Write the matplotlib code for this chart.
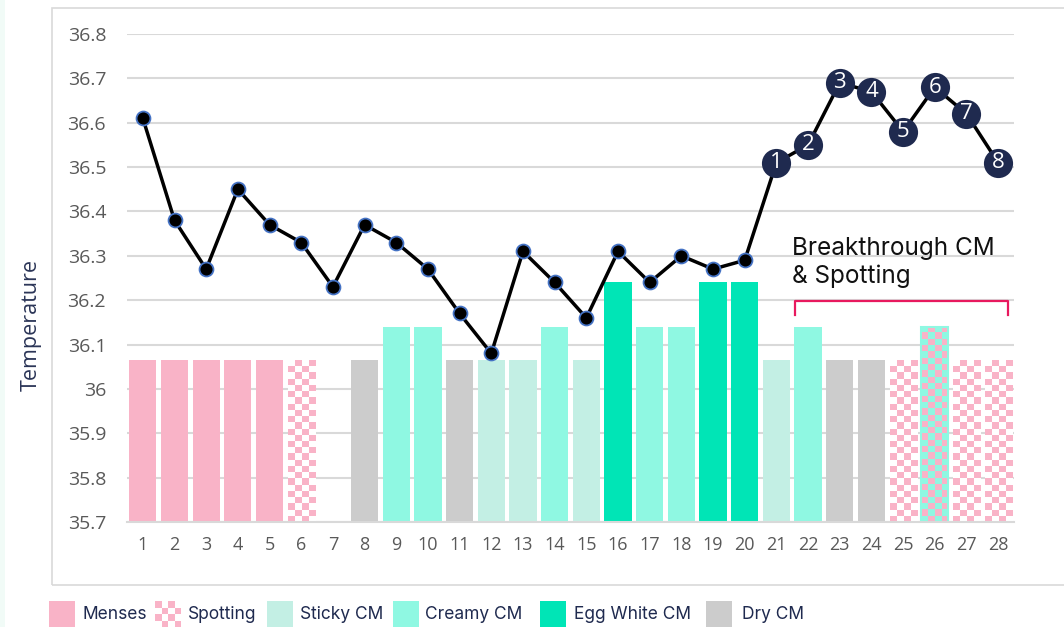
import numpy as np
import matplotlib.pyplot as plt
from matplotlib.patches import Rectangle

days = list(range(1, 29))
temps = [36.61, 36.38, 36.27, 36.45, 36.37, 36.33, 36.23, 36.37, 36.33, 36.27,
         36.17, 36.08, 36.31, 36.24, 36.16, 36.31, 36.24, 36.30, 36.27, 36.29,
         36.51, 36.55, 36.69, 36.67, 36.58, 36.68, 36.62, 36.51]
# cervical mucus / bleeding per day ('' = nothing recorded)
obs = ['menses'] * 5 + ['spotting', '', 'dry', 'creamy', 'creamy', 'dry', 'sticky',
       'sticky', 'creamy', 'sticky', 'egg', 'creamy', 'creamy', 'egg', 'egg',
       'sticky', 'creamy', 'dry', 'dry', 'spotting', 'creamy+spotting',
       'spotting', 'spotting']
bar_level = {'menses': 36.065, 'spotting': 36.065, 'dry': 36.065, 'sticky': 36.065,
             'creamy': 36.14, 'creamy+spotting': 36.14, 'egg': 36.24}
post_ovulation_start = 21

colors = {'menses': '#F9B3C7', 'sticky': '#C3EFE4', 'creamy': '#8FF8E2',
          'egg': '#00E5B6', 'dry': '#CCCCCC'}
legend_items = [('Menses', 'menses'), ('Spotting', 'spotting'), ('Sticky CM', 'sticky'),
                ('Creamy CM', 'creamy'), ('Egg White CM', 'egg'), ('Dry CM', 'dry')]

NAVY = '#1F2A4F'
PINK = colors['menses']

fig = plt.figure(figsize=(10.64, 6.27), dpi=100)
fig.patches.append(Rectangle((0, 0), 5 / 1064, 1, transform=fig.transFigure,
                             facecolor='#F1FBF7', edgecolor='none'))
fig.patches.append(Rectangle((52 / 1064, 1 - 585 / 627), 1.1, (585 - 8) / 627,
                             transform=fig.transFigure, facecolor='none',
                             edgecolor='#D9D9D9', lw=1.2))

ax = fig.add_axes([127 / 1064, 1 - 522 / 627, (1014 - 127) / 1064, (522 - 34) / 627])
ymin, ymax = 35.7, 36.8
ax.set_xlim(0.5, 28.5)
ax.set_ylim(ymin, ymax)


def checker(ax, x0, x1, y0, y1, c1, c2, cell_px=6.2):
    # checkerboard fill for a bar
    p0 = ax.transData.transform((x0, y0))
    p1 = ax.transData.transform((x1, y1))
    nx = max(1, int(round(abs(p1[0] - p0[0]) / cell_px)))
    ny = max(1, int(round(abs(p1[1] - p0[1]) / cell_px)))
    grid = (np.indices((ny, nx)).sum(axis=0) % 2)
    img = np.zeros((ny, nx, 3))
    img[grid == 0] = plt.matplotlib.colors.to_rgb(c1)
    img[grid == 1] = plt.matplotlib.colors.to_rgb(c2)
    ax.imshow(img, extent=(x0, x1, y0, y1), origin='lower', interpolation='nearest',
              aspect='auto', zorder=2)


w = 0.86
for d, o in zip(days, obs):
    if not o:
        continue
    top = bar_level[o]
    if o == 'spotting':
        checker(ax, d - w / 2, d + w / 2, ymin, top, PINK, 'white')
    elif o == 'creamy+spotting':
        checker(ax, d - w / 2, d + w / 2, ymin, top, colors['creamy'], PINK)
        ax.add_patch(Rectangle((d - w / 2, ymin), w, top - ymin, facecolor='none',
                               edgecolor=colors['creamy'], lw=1.5, zorder=2.5))
    else:
        ax.bar(d, top - ymin, bottom=ymin, width=w, color=colors[o], zorder=2)
ax.set_xlim(0.5, 28.5)
ax.set_ylim(ymin, ymax)

ax.set_yticks(np.arange(35.7, 36.81, 0.1))
ax.set_yticklabels(['35.7', '35.8', '35.9', '36', '36.1', '36.2', '36.3', '36.4',
                    '36.5', '36.6', '36.7', '36.8'])
ax.set_xticks(days)
ax.grid(axis='y', color='#D9D9D9', lw=1.5, zorder=0)
ax.set_axisbelow(True)
for s in ['top', 'right', 'left']:
    ax.spines[s].set_visible(False)
ax.spines['bottom'].set_color('#D9D9D9')
ax.spines['bottom'].set_linewidth(1.5)
ax.tick_params(length=0, labelsize=13, colors='#595959', pad=10)
ax.tick_params(axis='y', labelsize=14, pad=15)
for lab in ax.get_xticklabels() + ax.get_yticklabels():
    lab.set_fontfamily('Open Sans')
ax.set_ylabel('Temperature', fontsize=15.5, color='#2B3557', family='Open Sans')
ax.yaxis.set_label_coords(-0.096, 0.404)

k = post_ovulation_start - 1
ax.plot(days, temps, color='black', lw=2.5, zorder=3)
ax.plot(days[:k], temps[:k], 'o', ms=10, mfc='black', mec='#4472C4', mew=1.3, zorder=4)
ax.plot(days[k:], temps[k:], 'o', ms=21, mfc=NAVY, mec='none', zorder=4)
for i, (d, t) in enumerate(zip(days[k:], temps[k:]), start=1):
    ax.text(d, t, str(i), ha='center', va='center', color='white', fontsize=16,
            family='Open Sans', zorder=5)

ax.text(21.5, 36.284, 'Breakthrough CM\n& Spotting', fontsize=17.5, color='#111111',
        family='Inter', ha='left', va='center', linespacing=1.25)
ax.plot([21.59, 21.59, 28.31, 28.31], [36.167, 36.198, 36.198, 36.167], color='#E8195E',
        lw=1.6, clip_on=False, zorder=3)

# legend row at the bottom
lax = fig.add_axes([0, 0, 1, 1 - 585 / 627], facecolor='none')
lax.set_xlim(0, 1064)
lax.set_ylim(627, 585)
lax.axis('off')
patch_x = [49, 155, 267, 393, 540, 706]
text_x = [82, 188, 300, 425, 574, 742]
for (label, key), px, tx in zip(legend_items, patch_x, text_x):
    if key == 'spotting':
        for r in range(4):
            for c in range(4):
                col = PINK if (r + c) % 2 == 0 else 'white'
                lax.add_patch(Rectangle((px + c * 6.5, 601 + r * 6.5), 6.5, 6.5,
                                        facecolor=col, edgecolor='none'))
    else:
        lax.add_patch(Rectangle((px, 601), 26, 27, facecolor=colors[key], edgecolor='none'))
    lax.text(tx, 614, label, fontsize=12.5, color=NAVY, family='Inter', va='center')

fig.savefig('out.png', dpi=100)
